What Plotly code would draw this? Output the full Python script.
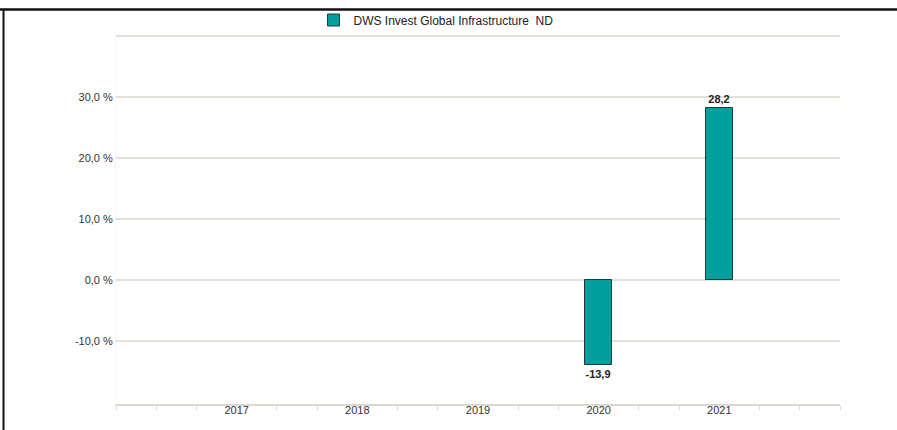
import plotly.graph_objects as go

years = ["2017", "2018", "2019", "2020", "2021"]
values = [None, None, None, -13.9, 28.2]
labels = ["", "", "", "-13,9", "28,2"]
series_name = "DWS Invest Global Infrastructure  ND"
ytick_vals = [-10, 0, 10, 20, 30, 40]
ytick_text = ["-10,0 %", "0,0 %", "10,0 %", "20,0 %", "30,0 %", ""]

xpos = list(range(len(years)))
minor_ticks = []
for i in range(-1, len(years) + 1):
    for off in (0.0, 1/3, 2/3):
        v = i + off
        if abs(off) < 1e-9 and 0 <= i < len(years):
            continue
        if -1 <= v <= len(years):
            minor_ticks.append(v)

W, H = 897, 430
l, r, t, b = 116, 57, 33, 26
pw, ph = W - l - r, H - t - b
def px(x):
    return (x - l) / pw
def py(y):
    return (H - b - y) / ph

fig = go.Figure()
fig.add_trace(go.Bar(
    x=xpos, y=values, name=series_name,
    marker=dict(color="#00A09F", line=dict(color="#1E3B3B", width=1)),
    width=0.22,
    text=labels, textposition="outside",
    textfont=dict(family="Liberation Sans, Arial", size=11, color="#222", weight="bold"),
    cliponaxis=False,
    showlegend=True,
))

fig.update_layout(
    width=W, height=H,
    margin=dict(l=l, r=r, t=t, b=b, autoexpand=False),
    paper_bgcolor="white", plot_bgcolor="white",
    font=dict(family="Liberation Sans, Arial", size=11, color="#333"),
    bargap=0,
    legend=dict(orientation="h", x=px(436), xanchor="center", y=py(20), yanchor="middle",
                font=dict(size=12, color="#222"), bgcolor="rgba(0,0,0,0)"),
    xaxis=dict(
        range=[-1, len(years)], tickvals=xpos, ticktext=years, ticks="",
        showgrid=False, zeroline=False,
        showline=True, linecolor="#DDD8CF", linewidth=2,
        tickfont=dict(size=11, color="#333"),
        ticklabelstandoff=-5,
        minor=dict(tickvals=minor_ticks, ticks="outside", ticklen=4, tickcolor="#DDD8CF", tickwidth=1),
    ),
    yaxis=dict(
        range=[-20.3, 40.5], tickvals=ytick_vals, ticktext=ytick_text,
        showgrid=True, gridcolor="#E3E0DA", gridwidth=1.5,
        zeroline=False, showline=True, linecolor="#F6F6F4", linewidth=1,
        ticks="", tickfont=dict(size=11, color="#333"),
    ),
    shapes=[
        dict(type="line", xref="paper", yref="paper", x0=px(0), x1=px(W), y0=py(9.5), y1=py(9.5),
             line=dict(color="#111", width=2.5)),
        dict(type="line", xref="paper", yref="paper", x0=px(3.5), x1=px(3.5), y0=py(9.5), y1=py(H),
             line=dict(color="#111", width=2)),
    ],
)

fig.write_html("out.html", config={"displayModeBar": False},
               post_script="document.body.style.margin='0px';")
